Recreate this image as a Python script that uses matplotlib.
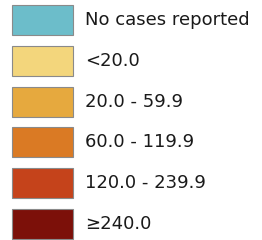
import matplotlib
matplotlib.use("Agg")
import matplotlib.pyplot as plt

# legend classes (case rate)
labels = ["No cases reported", "<20.0", "20.0 - 59.9", "60.0 - 119.9",
          "120.0 - 239.9", "\u2265240.0"]
colors = ["#6cbdca", "#f3d67c", "#e6a93e", "#da7a24", "#c5431b", "#7c1009"]

fig = plt.figure(figsize=(2.62, 2.40), dpi=100)
ax = fig.add_axes([0, 0, 1, 1])
ax.set_xlim(0, 262)
ax.set_ylim(240, 0)
ax.axis("off")

step = 40.8
for i, (lab, col) in enumerate(zip(labels, colors)):
    yc = 20 + i * step
    ax.barh(yc, 61, left=12, height=30, color=col, edgecolor="#8a8a8a", linewidth=0.8)
    ax.text(85, yc, lab, fontsize=13, va="center", ha="left", color="#1a1a1a",
            family="DejaVu Sans")

fig.savefig("out.png", dpi=100)
